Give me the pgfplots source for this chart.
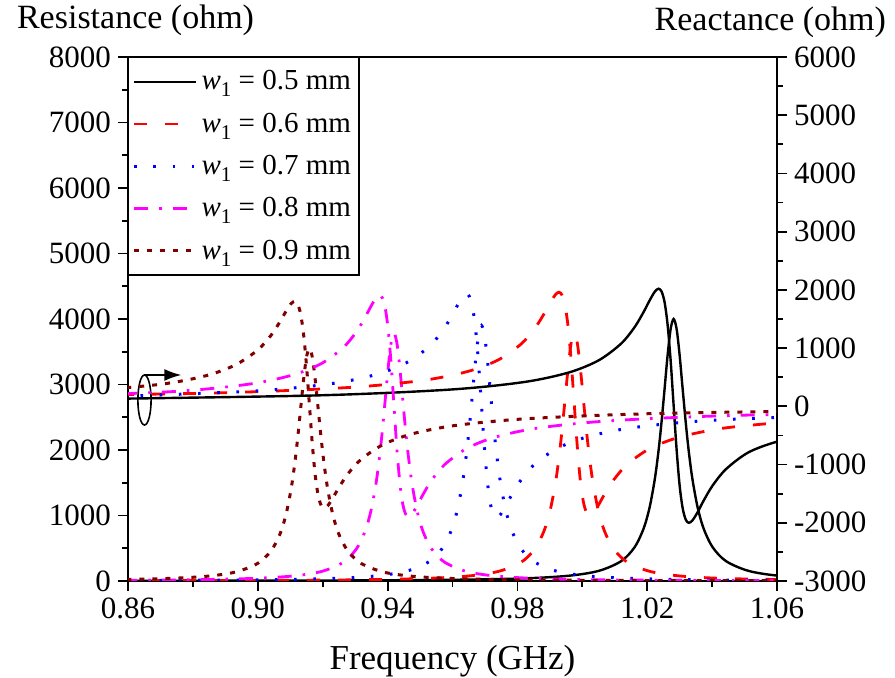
\documentclass[border=0pt]{standalone}
\usepackage{fontspec}
\setmainfont{Liberation Serif}
\usepackage{pgfplots}
\pgfplotsset{compat=1.18}
\usepackage{pgfplotstable}
\usetikzlibrary{arrows.meta}
\definecolor{maroon}{RGB}{128,0,0}
\definecolor{mag}{RGB}{255,0,255}
\definecolor{pred}{RGB}{255,0,0}
\definecolor{pblue}{RGB}{0,0,255}

% columns: frequency (GHz), resistance (ohm), reactance (ohm)
\pgfplotstableread{
f r x
0.84324 2.5 120
0.91714 6.9 186
0.95879 17.7 286
0.98191 39.6 416
0.99578 80 580
1.00502 153.8 789
1.01196 301.9 1077
1.01612 515.5 1360
1.01889 800 1620
1.02074 1123.6 1818
1.02236 1561 1971
1.02352 2000 2020
1.02444 2439 1971
1.02537 2941 1785
1.02629 3448 1399
1.02722 3846 789
1.02814 4000 20
1.02907 3846 -749
1.02999 3448 -1359
1.03091 2941 -1745
1.03184 2439 -1941
1.03276 2000 -2000
1.03392 1561 -1961
1.03554 1123.6 -1818
1.03739 800 -1620
1.04016 515.5 -1360
1.04432 301.9 -1077
1.05126 153.8 -789
1.06050 80 -600
1.07437 39.6 -446
}\tblack

\pgfplotstableread{
f r x
0.81011 2.4 164.5
0.88511 6.5 227
0.92725 16.7 321
0.95067 37.4 444
0.96472 75.6 599
0.97409 145.4 797
0.98112 285.3 1069
0.98533 487.1 1337
0.98814 756 1582
0.99002 1061.8 1769
0.99166 1475.1 1914
0.99283 1890 1960
0.99376 2304.9 1909
0.99470 2779.4 1728
0.99564 3258.6 1359
0.99657 3634.6 777
0.99751 3780 45
0.99845 3634.6 -687
0.99938 3258.6 -1269
1.00032 2779.4 -1638
1.00126 2304.9 -1819
1.00219 1890 -1870
1.00337 1475.1 -1829
1.00500 1061.8 -1694
1.00688 756 -1507
1.00969 487.1 -1262
1.01390 285.3 -994
1.02093 145.4 -722
1.03030 75.6 -524
1.04435 37.4 -369
1.06777 16.7 -246
}\tred

\pgfplotstableread{
f r x
0.85794 6.8 170
0.89959 17.2 265
0.92271 38.6 390
0.93658 78 548
0.94582 150 749
0.95276 294.3 1024
0.95692 502.6 1297
0.95969 780 1546
0.96154 1095.5 1736
0.96316 1521.9 1883
0.96432 1950 1930
0.96524 2378 1883
0.96617 2867.6 1704
0.96709 3362.1 1334
0.96802 3750 749
0.96894 3900 10
0.96987 3750 -729
0.97079 3362.1 -1314
0.97171 2867.6 -1684
0.97264 2378 -1863
0.97356 1950 -1910
0.97472 1521.9 -1863
0.97634 1095.5 -1716
0.97819 780 -1526
0.98096 502.6 -1277
0.98512 294.3 -1004
0.99206 150 -729
1.00130 78 -528
1.01517 38.6 -370
1.03829 17.2 -245
1.07994 6.8 -150
}\tblue

\pgfplotstableread{
f r x
0.83477 6.5 163
0.87495 16.7 257
0.89729 37.4 381
0.91069 75.6 537
0.91963 145.4 736
0.92633 285.3 1009
0.93035 487.1 1278
0.93303 756 1525
0.93482 1061.8 1713
0.93639 1475.1 1859
0.93750 1890 1905
0.93840 2304.9 1859
0.93929 2779.4 1682
0.94018 3258.6 1315
0.94108 3634.6 736
0.94197 3780 5
0.94286 3634.6 -726
0.94376 3258.6 -1305
0.94465 2779.4 -1672
0.94554 2304.9 -1849
0.94644 1890 -1895
0.94756 1475.1 -1849
0.94912 1061.8 -1703
0.95091 756 -1515
0.95359 487.1 -1268
0.95761 285.3 -999
0.96431 145.4 -726
0.97325 75.6 -527
0.98665 37.4 -371
1.00899 16.7 -247
1.04917 6.5 -153
1.12067 2.4 -90
}\tmag

\pgfplotstableread{
f r x
0.84748 15.7 264
0.87029 35.1 380
0.88397 71 525
0.89309 136.5 711
0.89994 267.9 966
0.90404 457.5 1217
0.90678 710 1448
0.90860 997.2 1624
0.91020 1385.4 1760
0.91134 1775 1803
0.91225 2164.6 1760
0.91316 2610.3 1594
0.91408 3060.3 1252
0.91499 3413.5 711
0.91590 3550 28
0.91681 3413.5 -655
0.91772 3060.3 -1196
0.91864 2610.3 -1538
0.91955 2164.6 -1704
0.92046 1775 -1747
0.92160 1385.4 -1704
0.92320 997.2 -1568
0.92502 710 -1392
0.92776 457.5 -1161
0.93186 267.9 -910
0.93871 136.5 -655
0.94783 71 -469
0.96151 35.1 -324
0.98432 15.7 -208
1.02540 6.2 -120
1.09830 2.2 -61
}\tmaroon

\pgfplotsset{
  common/.style={
    scale only axis, width=324.5pt, height=262pt,
    xmin=0.86, xmax=1.06,
    tick align=outside,
    major tick length=5pt, minor tick length=3pt,
    every tick/.style={black, line width=0.9pt},
    axis line style={line width=1pt},
    /pgf/number format/assume math mode=true,
    /pgf/number format/1000 sep={},
    tick label style={font=\fontsize{15.5}{16}\selectfont},
  },
  sblack/.style={black, line width=1.2pt, smooth, tension=0.5},
  sred/.style={pred, line width=1.4pt, dash pattern=on 6.5pt off 9pt, smooth, tension=0.5},
  sblue/.style={pblue, line width=1.5pt, dash pattern=on 1.3pt off 8.3pt, smooth, tension=0.5},
  smag/.style={mag, line width=1.4pt, dash pattern=on 7pt off 5.5pt on 1.3pt off 5.5pt, smooth, tension=0.5},
  smar/.style={maroon, line width=1.5pt, dash pattern=on 2.5pt off 4pt, smooth, tension=0.5},
}
\newcommand{\wlab}[1]{{\itshape w}\raisebox{-3.5pt}{\fontsize{10.5}{10.5}\selectfont 1} = #1 mm}

\begin{document}
\begin{tikzpicture}
\begin{axis}[common, name=main, at={(0,0)}, anchor=south west,
  ymin=0, ymax=8000,
  xtick={0.86,0.90,0.94,0.98,1.02,1.06}, minor x tick num=1,
  ytick distance=1000, minor y tick num=1,
  tick pos=left,
  x tick label style={/pgf/number format/.cd, fixed, fixed zerofill, precision=2},
  legend style={at={(0,1)}, anchor=north west, draw=black, line width=0.6pt,
    font=\fontsize{14.5}{16}\selectfont, inner xsep=2pt, inner ysep=4.5pt, row sep=6pt},
  legend cell align=left,
  legend image code/.code={\draw[#1] (0pt,0pt) -- (31pt,0pt);},
]
\addplot[sblack] table[x=f, y=r] {\tblack};
\addlegendentry{\wlab{0.5}}
\addplot[sred] table[x=f, y=r] {\tred};
\addlegendentry{\wlab{0.6}}
\addplot[sblue] table[x=f, y=r] {\tblue};
\addlegendentry{\wlab{0.7}}
\addplot[smag] table[x=f, y=r] {\tmag};
\addlegendentry{\wlab{0.8}}
\addplot[smar] table[x=f, y=r] {\tmaroon};
\addlegendentry{\wlab{0.9}}
\draw[line width=0.8pt] (axis cs:0.86508,2763) ellipse (3.3pt and 12.5pt);
\draw[line width=0.8pt, -{Latex[length=8.5pt,width=6pt]}] (axis cs:0.86508,3145) -- (axis cs:0.87643,3145);
\end{axis}
\begin{axis}[common, at={(main.south west)}, anchor=south west,
  ymin=-3000, ymax=6000,
  axis x line=none, axis y line*=right,
  ytick distance=1000, minor y tick num=1,
]
\addplot[sblack] table[x=f, y=x] {\tblack};
\addplot[sred] table[x=f, y=x] {\tred};
\addplot[sblue] table[x=f, y=x] {\tblue};
\addplot[smag] table[x=f, y=x] {\tmag};
\addplot[smar] table[x=f, y=x] {\tmaroon};
\end{axis}
\node[anchor=base west, font=\fontsize{17}{17}\selectfont] at ([xshift=-59pt, yshift=14.2pt]main.north west) {Resistance (ohm)};
\node[anchor=base east, font=\fontsize{17}{17}\selectfont] at ([xshift=58pt, yshift=13pt]main.north east) {Reactance (ohm)};
\node[anchor=base, font=\fontsize{17.5}{17.5}\selectfont] at ([yshift=-44.5pt]main.south) {Frequency (GHz)};
\pgfresetboundingbox
\path[use as bounding box] ([xshift=-64pt, yshift=-48.5pt]main.south west) rectangle ([xshift=59pt, yshift=28.5pt]main.north east);
\end{tikzpicture}
\end{document}
